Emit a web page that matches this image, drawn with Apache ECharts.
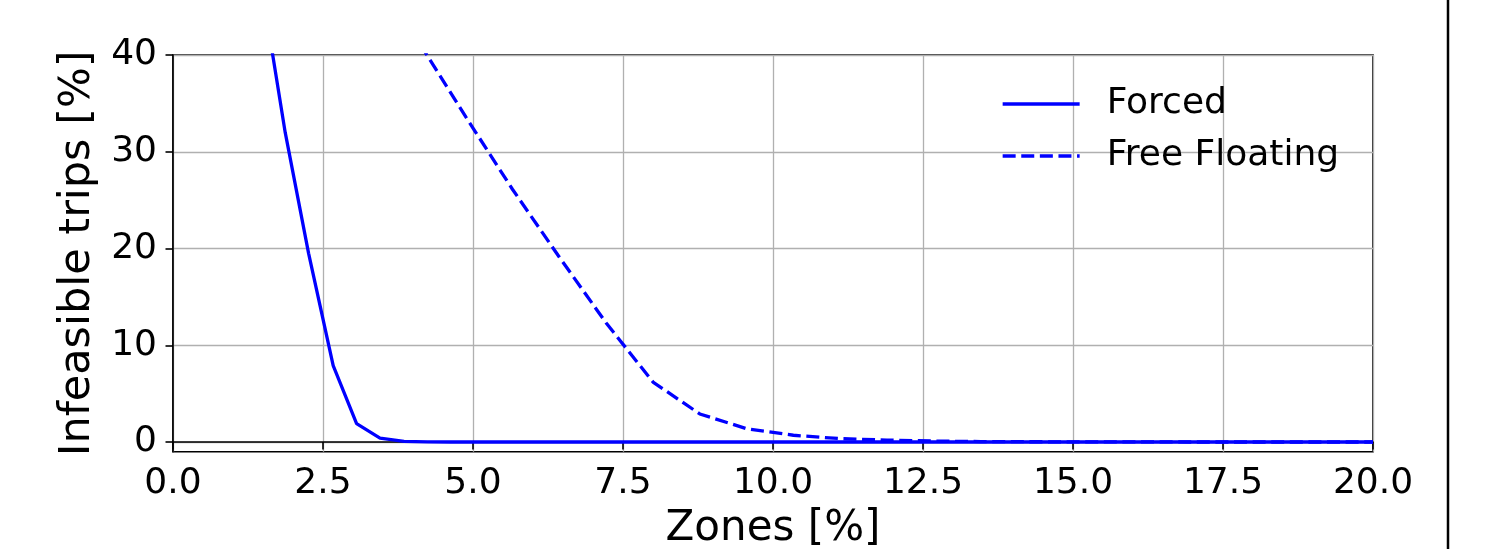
<!DOCTYPE html>
<html>
<head>
<meta charset="utf-8">
<script src="https://cdn.jsdelivr.net/npm/echarts@6/dist/echarts.min.js"></script>
<style>html,body{margin:0;padding:0;background:#fff}#c{width:1485px;height:549px}</style>
</head>
<body>
<div id="c"></div>
<script>
const forcedX = [1.48, 1.87, 2.26, 2.67, 3.06, 3.45, 3.85, 4.24, 4.63, 5.0, 7.5, 10.0, 12.5, 15.0, 17.5, 20.0];
const forcedY = [47.0, 32.0, 19.5, 7.9, 1.9, 0.4, 0.07, 0.02, 0.0, 0.0, 0.0, 0.0, 0.0, 0.0, 0.0, 0.0];
const floatX = [3.32, 4.10, 4.88, 5.66, 6.44, 7.22, 8.00, 8.78, 9.56, 10.34, 11.12, 11.90, 12.68, 13.46, 14.24, 15.02, 15.80, 16.58, 17.36, 18.14, 18.92, 19.70, 20.0];
const floatY = [47.0, 41.3, 33.6, 26.1, 19.1, 12.3, 6.2, 2.9, 1.38, 0.7, 0.35, 0.2, 0.1, 0.05, 0.03, 0.02, 0.01, 0.01, 0.0, 0.0, 0.0, 0.0, 0.0];
const xTicks = [0, 2.5, 5, 7.5, 10, 12.5, 15, 17.5, 20];
const yTicks = [0, 10, 20, 30, 40];
const seriesNames = ['Forced', 'Free Floating'];

const font = 'DejaVu Sans';
const chart = echarts.init(document.getElementById('c'), null, {renderer: 'canvas'});
const zip = (xs, ys) => xs.map((x, i) => [x, ys[i]]);
chart.setOption({
  animation: false,
  backgroundColor: '#fff',
  grid: {left: 173, top: 55, right: 112, bottom: 97.3, outerBoundsMode: 'none', containLabel: false,
         show: true, borderColor: '#000', borderWidth: 1.6, backgroundColor: 'transparent'},
  xAxis: {
    type: 'value', min: 0, max: 20, interval: 2.5,
    name: 'Zones [%]', nameLocation: 'middle', nameGap: 56,
    nameTextStyle: {fontFamily: font, fontSize: 42, color: '#000'},
    axisLine: {show: true, lineStyle: {color: '#000', width: 1.6}},
    axisTick: {show: true, length: 7.5, lineStyle: {color: '#000', width: 1.6}},
    axisLabel: {margin: 14, fontFamily: font, fontSize: 36, color: '#000', formatter: v => v.toFixed(1), showMinLabel: true, showMaxLabel: true},
    splitLine: {show: true, lineStyle: {color: '#b0b0b0', width: 1.3}}
  },
  yAxis: {
    type: 'value', min: -1, max: 40,
    name: 'Infeasible trips [%]', nameLocation: 'middle', nameGap: 74,
    nameTextStyle: {fontFamily: font, fontSize: 43, color: '#000'},
    axisLine: {show: true, lineStyle: {color: '#000', width: 1.6}},
    axisTick: {show: true, length: 7.5, lineStyle: {color: '#000', width: 1.6}, customValues: yTicks},
    axisLabel: {margin: 16, fontFamily: font, fontSize: 36, color: '#000', customValues: yTicks},
    splitLine: {show: true, lineStyle: {color: '#b0b0b0', width: 1.3}}
  },
  legend: {
    orient: 'vertical', left: 1001, top: 86, padding: 0,
    itemWidth: 77, itemHeight: 20, itemGap: 16,
    itemStyle: {color: 'transparent', borderWidth: 0, opacity: 0},
    lineStyle: {width: 3.3},
    textStyle: {fontFamily: font, fontSize: 36, color: '#000', lineHeight: 36, padding: [0, 0, 0, 22]},
    data: seriesNames,
    selectedMode: false
  },
  series: [
    {name: seriesNames[0], type: 'line', data: zip(forcedX, forcedY), symbol: 'none', clip: true,
     lineStyle: {color: '#0000ff', width: 3.3}, itemStyle: {color: '#0000ff'}},
    {name: seriesNames[1], type: 'line', data: zip(floatX, floatY), symbol: 'none', clip: true,
     lineStyle: {color: '#0000ff', width: 3.3, type: [13, 5.6]}, itemStyle: {color: '#0000ff'}}
  ],
  graphic: [{type: 'line', shape: {x1: 1448, y1: 0, x2: 1448, y2: 549}, style: {stroke: '#000', lineWidth: 2.5}, silent: true}]
});
</script>
</body>
</html>
